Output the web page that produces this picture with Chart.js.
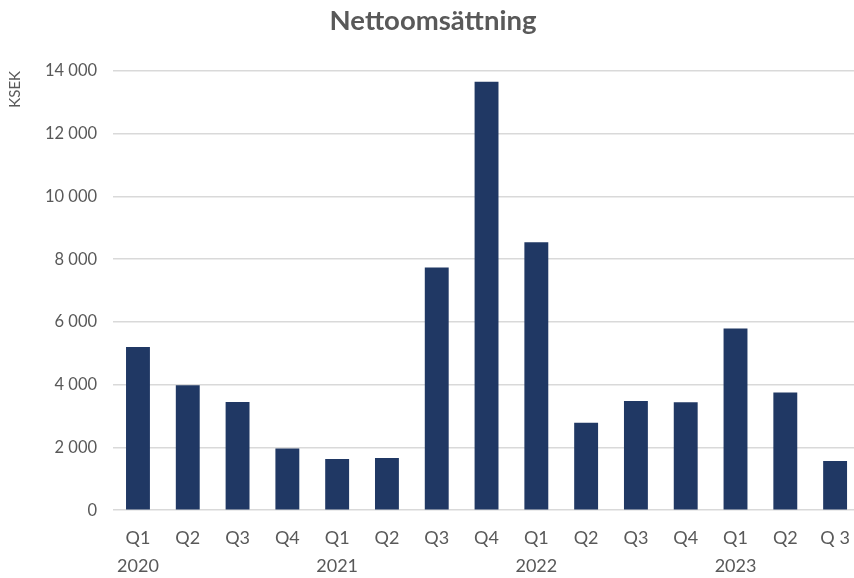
<!DOCTYPE html>
<html>
<head>
<meta charset="utf-8">
<script src="https://cdn.jsdelivr.net/npm/chart.js@4"></script>
<style>
  html, body { margin: 0; padding: 0; background: #ffffff; overflow: hidden; }
  #wrap { width: 854px; height: 578px; overflow: hidden; }
</style>
</head>
<body>
<div id="wrap"><canvas id="chart" width="866" height="578"></canvas></div>
<script>
// kvartal och år (tom sträng = ingen årsrad)
var quarters = ['Q1', 'Q2', 'Q3', 'Q4', 'Q1', 'Q2', 'Q3', 'Q4', 'Q1', 'Q2', 'Q3', 'Q4', 'Q1', 'Q2', 'Q 3'];
var years = ['2020', '', '', '', '2021', '', '', '', '2022', '', '', '', '2023', '', ''];
var netSales = [5200, 3980, 3450, 1970, 1630, 1660, 7740, 13660, 8540, 2790, 3480, 3440, 5790, 3750, 1570];
var yTicks = [0, 2000, 4000, 6000, 8000, 10000, 12000, 14000];

var labels = quarters.map(function (q, i) {
    return years[i] ? [q, years[i]] : q;
});

function fmt(v) {
    return String(v).replace(/\B(?=(\d{3})+(?!\d))/g, ' ');
}

var grey = '#595959';
var font = 'Lato, "Open Sans", sans-serif';

new Chart(document.getElementById('chart'), {
    type: 'bar',
    data: {
        labels: labels,
        datasets: [{
            label: 'Nettoomsättning',
            data: netSales,
            backgroundColor: '#203864',
            borderWidth: 0,
            categoryPercentage: 1,
            barPercentage: 0.48,
        }]
    },
    options: {
        responsive: false,
        animation: false,
        layout: {
            padding: { left: 6, right: 6, top: 0, bottom: -8 }
        },
        scales: {
            x: {
                grid: { display: false },
                border: { display: false },
                ticks: {
                    color: grey,
                    font: { family: font, size: 18, lineHeight: 1.55 },
                    padding: 6,
                    maxRotation: 0,
                    autoSkip: false,
                }
            },
            y: {
                min: 0,
                max: 14000,
                afterBuildTicks: function (axis) {
                    axis.ticks = yTicks.map(function (v) { return { value: v }; });
                },
                grid: {
                    color: '#d9d9d9',
                    lineWidth: 1.5,
                    drawTicks: false,
                },
                border: { display: false },
                ticks: {
                    color: grey,
                    font: { family: font, size: 16.5 },
                    padding: 16,
                    callback: function (v) { return fmt(v); }
                },
                title: {
                    display: true,
                    text: 'KSEK',
                    align: 'end',
                    color: grey,
                    font: { family: font, size: 15 },
                    padding: { top: 0, bottom: 5 }
                }
            }
        },
        plugins: {
            legend: { display: false },
            tooltip: { enabled: false },
            title: {
                display: true,
                text: 'Nettoomsättning',
                color: grey,
                font: { family: font, size: 27.5, weight: 'bold' },
                padding: { top: 5, bottom: 33 }
            }
        }
    }
});
</script>
</body>
</html>
